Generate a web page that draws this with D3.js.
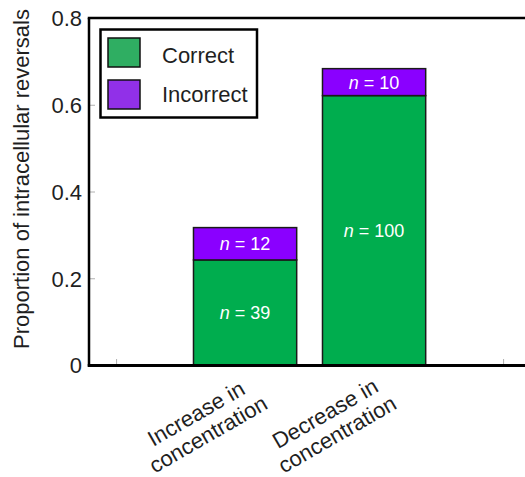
<!DOCTYPE html>
<html>
<head>
<meta charset="utf-8">
<script src="https://cdn.jsdelivr.net/npm/d3@7"></script>
<style>
  html, body { margin: 0; padding: 0; background: #fff; }
  svg { display: block; font-family: "Liberation Sans", Arial, Helvetica, sans-serif; }
</style>
</head>
<body>
<svg id="chart" width="525" height="477"></svg>
<script>
// Reversal counts per direction of concentration change
const categories = [["Increase in", "concentration"], ["Decrease in", "concentration"]];
const correctCounts = [39, 100];
const incorrectCounts = [12, 10];
const seriesNames = ["Correct", "Incorrect"];
const yTicks = [0, 0.2, 0.4, 0.6, 0.8];
const yTickLabels = ["0", "0.2", "0.4", "0.6", "0.8"];
const xTicks = [0, 1, 2, 3];

const totalCount = d3.sum(correctCounts) + d3.sum(incorrectCounts);

const colors = { Correct: "#00ad4e", Incorrect: "#8a00ff" };
const legendColors = { Correct: "#2fae62", Incorrect: "#9130e8" };
const textColor = "#1f1f1f";

const svg = d3.select("#chart");

const xs = d3.scaleLinear().domain([-0.21, 3.4]).range([89, 89 + 3.61 * 129]);
const ys = d3.scaleLinear().domain([0, 0.8]).range([365, 18]);

// Inward tick marks on the y axis
const yAxis = d3.axisLeft(ys).tickValues(yTicks).tickSize(-5).tickPadding(7)
  .tickFormat((d, i) => yTickLabels[i]);
const gy = svg.append("g").attr("transform", `translate(${xs.range()[0]},0)`).call(yAxis);
gy.select(".domain").remove();
gy.selectAll(".tick line").attr("stroke", "#b0b0b0").attr("stroke-width", 1)
  .attr("transform", "translate(1,0)");
gy.selectAll(".tick text").attr("fill", textColor).attr("font-size", 22)
  .attr("dy", "0.36em");

// Inward tick marks on the x axis
const xAxis = d3.axisBottom(xs).tickValues(xTicks).tickSize(-5).tickFormat("");
const gx = svg.append("g").attr("transform", `translate(0,${ys(0)})`).call(xAxis);
gx.select(".domain").remove();
gx.selectAll(".tick line").attr("stroke", "#b0b0b0").attr("stroke-width", 1)
  .attr("transform", "translate(0,-1)");

// Stacked bars
const barW = 0.8;
const stacked = categories.map((c, i) => {
  const c0 = correctCounts[i] / totalCount;
  const c1 = c0 + incorrectCounts[i] / totalCount;
  return { i, pos: i + 1, segs: [
    { name: "Correct", n: correctCounts[i], y0: 0, y1: c0 },
    { name: "Incorrect", n: incorrectCounts[i], y0: c0, y1: c1 }
  ]};
});

const barG = svg.append("g");
stacked.forEach(b => {
  b.segs.forEach(s => {
    barG.append("rect")
      .attr("x", xs(b.pos - barW / 2))
      .attr("width", xs(b.pos + barW / 2) - xs(b.pos - barW / 2))
      .attr("y", ys(s.y1))
      .attr("height", ys(s.y0) - ys(s.y1))
      .attr("fill", colors[s.name])
      .attr("stroke", "#1a1a1a")
      .attr("stroke-width", 1.5);
    const t = barG.append("text")
      .attr("x", xs(b.pos))
      .attr("y", ys((s.y0 + s.y1) / 2))
      .attr("dy", "0.36em")
      .attr("text-anchor", "middle")
      .attr("fill", "#fff")
      .attr("font-size", 18);
    t.append("tspan").attr("font-style", "italic").text("n");
    t.append("tspan").text(" = " + s.n);
  });
});

// Plot frame: left, bottom and top edges
const fx0 = xs.range()[0], fx1 = 525;
svg.append("line").attr("x1", fx0).attr("x2", fx0).attr("y1", ys(0.8)).attr("y2", ys(0) + 1.5)
  .attr("stroke", "#000").attr("stroke-width", 2.5);
svg.append("line").attr("x1", fx0 - 1.25).attr("x2", fx1).attr("y1", ys(0) + 0.5).attr("y2", ys(0) + 0.5)
  .attr("stroke", "#000").attr("stroke-width", 3);
svg.append("line").attr("x1", fx0 - 1.25).attr("x2", fx1).attr("y1", ys(0.8)).attr("y2", ys(0.8))
  .attr("stroke", "#000").attr("stroke-width", 2.5);

// Category labels, rotated, two centred lines each
const fs = 22, lh = 24;
stacked.forEach((b, i) => {
  const g = svg.append("g")
    .attr("transform", `translate(${xs(b.pos) + 12},${387}) rotate(-30)`);
  const lines = categories[i];
  const texts = lines.map((l, k) => g.append("text")
    .attr("y", k * lh)
    .attr("text-anchor", "middle")
    .attr("font-size", fs)
    .attr("fill", textColor)
    .text(l));
  const wMax = d3.max(texts, t => t.node().getComputedTextLength());
  texts.forEach(t => t.attr("x", -wMax / 2));
});

// Y axis title
svg.append("text")
  .attr("transform", `translate(29,179) rotate(-90)`)
  .attr("text-anchor", "middle")
  .attr("font-size", 22)
  .attr("fill", textColor)
  .text("Proportion of intracellular reversals");

// Legend
const lg = svg.append("g");
lg.append("rect").attr("x", 100.5).attr("y", 29.5).attr("width", 156.5).attr("height", 88)
  .attr("fill", "#fff").attr("stroke", "#000").attr("stroke-width", 2.5);
seriesNames.forEach((name, k) => {
  lg.append("rect").attr("x", 108).attr("y", 38 + k * 42).attr("width", 32).attr("height", 29)
    .attr("fill", legendColors[name]).attr("stroke", "#111").attr("stroke-width", 1.5);
  lg.append("text").attr("x", 162).attr("y", 63 + k * 39)
    .attr("font-size", 22).attr("fill", textColor).text(name);
});
</script>
</body>
</html>
